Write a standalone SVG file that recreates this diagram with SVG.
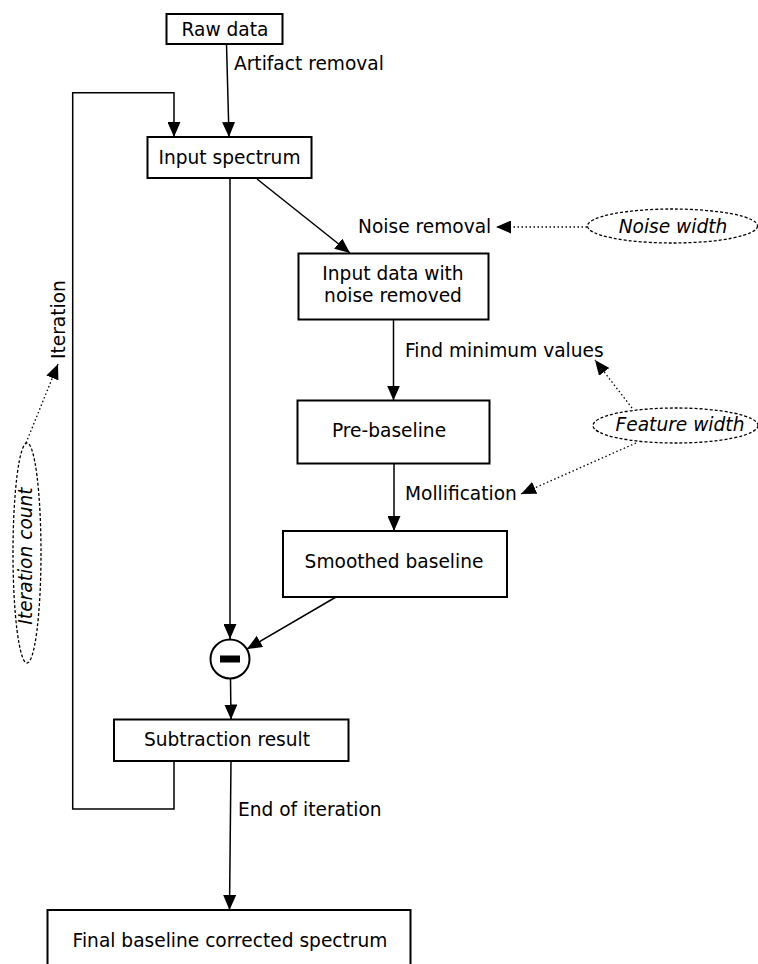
<svg xmlns="http://www.w3.org/2000/svg" width="758" height="964" viewBox="0 0 758 964">
<defs>
<marker id="ah" markerUnits="userSpaceOnUse" markerWidth="16" markerHeight="13" refX="15" refY="6.5" orient="auto">
<path d="M0,0 L15,6.5 L0,13 Z" fill="#000"/>
</marker>
<style>
text{font-family:"DejaVu Sans","Liberation Sans",sans-serif;font-size:18.6px;fill:#000}
.box{fill:#fff;stroke:#000;stroke-width:2}
.c{text-anchor:middle}
.it{font-style:italic}
.ln{fill:none;stroke:#000;stroke-width:1.5}
.dot{fill:none;stroke:#000;stroke-width:1.3;stroke-dasharray:1.5,2.5}
.dash{fill:#fff;stroke:#000;stroke-width:1.3;stroke-dasharray:3,2}
</style>
</defs>
<rect width="758" height="964" fill="#fff"/>
<g id="connectors">
<line class="ln" x1="226.5" y1="44" x2="229" y2="137" marker-end="url(#ah)"/>
<polyline class="ln" points="174,762 174,809 72.7,809 72.7,92.7 174,92.7 174,137" marker-end="url(#ah)"/>
<line class="ln" x1="230" y1="178" x2="230" y2="639" marker-end="url(#ah)"/>
<line class="ln" x1="257" y1="179" x2="350" y2="253" marker-end="url(#ah)"/>
<line class="ln" x1="393.5" y1="320" x2="393.5" y2="400.5" marker-end="url(#ah)"/>
<line class="ln" x1="394" y1="463" x2="394" y2="531" marker-end="url(#ah)"/>
<line class="ln" x1="336" y1="597" x2="247" y2="649" marker-end="url(#ah)"/>
<line class="ln" x1="230.5" y1="679" x2="231" y2="719.5" marker-end="url(#ah)"/>
<line class="ln" x1="231" y1="761" x2="229.5" y2="910" marker-end="url(#ah)"/>
<line class="dot" x1="587" y1="227" x2="496" y2="227" marker-end="url(#ah)"/>
<line class="dot" x1="632" y1="408" x2="595" y2="360" marker-end="url(#ah)"/>
<line class="dot" x1="636" y1="443" x2="521" y2="494" marker-end="url(#ah)"/>
<line class="dot" x1="26" y1="443" x2="58" y2="364" marker-end="url(#ah)"/>
<text x="234" y="70">Artifact removal</text>
<text x="358" y="233">Noise removal</text>
<text x="405" y="357">Find minimum values</text>
<text x="405" y="500">Mollification</text>
<text x="238" y="816">End of iteration</text>
<text transform="translate(65,359) rotate(-90)">Iteration</text>
</g>
<g id="raw-data"><rect class="box" x="166.5" y="14" width="116" height="30"/><text class="c" x="225" y="36">Raw data</text></g>
<g id="input-spectrum"><rect class="box" x="147.5" y="137" width="164" height="41"/><text class="c" x="229.5" y="164">Input spectrum</text></g>
<g id="noise-width"><ellipse class="dash" cx="672.5" cy="226" rx="85" ry="17"/><text class="c it" x="673" y="233">Noise width</text></g>
<g id="input-data-noise-removed"><rect class="box" x="298.5" y="253.5" width="190" height="66"/><text class="c" x="393" y="280">Input data with</text><text class="c" x="393" y="302">noise removed</text></g>
<g id="pre-baseline"><rect class="box" x="297.5" y="400.5" width="192" height="63"/><text class="c" x="389" y="437">Pre-baseline</text></g>
<g id="feature-width"><ellipse class="dash" cx="675.5" cy="425.5" rx="82.5" ry="17.5"/><text class="c it" x="680" y="431">Feature width</text></g>
<g id="smoothed-baseline"><rect class="box" x="283" y="531" width="224" height="66"/><text class="c" x="394" y="568">Smoothed baseline</text></g>
<g id="iteration-count"><ellipse class="dash" cx="27" cy="553" rx="14" ry="110"/><text class="c it" transform="translate(32,556) rotate(-90)">Iteration count</text></g>
<g id="subtract"><circle cx="230" cy="659" r="19.5" fill="#fff" stroke="#000" stroke-width="2"/><rect x="220" y="655.5" width="20" height="7" fill="#000"/></g>
<g id="subtraction-result"><rect class="box" x="114" y="719.5" width="234.5" height="41.5"/><text class="c" x="227" y="746">Subtraction result</text></g>
<g id="final"><rect class="box" x="47.5" y="910" width="363" height="70"/><text class="c" x="230" y="947">Final baseline corrected spectrum</text></g>
</svg>
